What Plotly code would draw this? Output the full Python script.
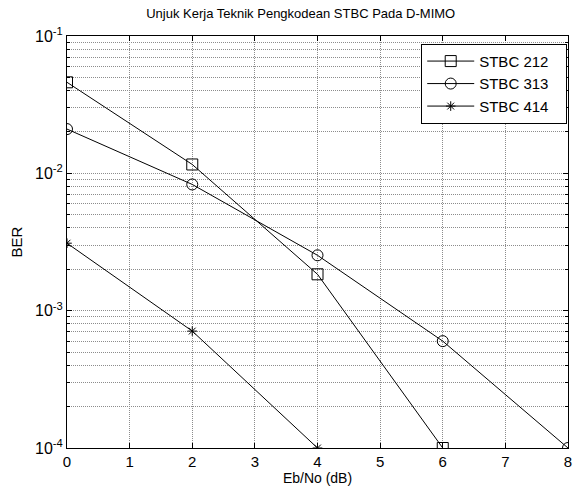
import plotly.graph_objects as go

ebno_212 = [0, 2, 4, 6]
ber_212 = [0.046, 0.0116, 0.00184, 0.0001]
ebno_313 = [0, 2, 4, 6, 8]
ber_313 = [0.021, 0.0083, 0.00253, 0.0006, 0.0001]
ebno_414 = [0, 2, 4]
ber_414 = [0.0031, 0.00071, 0.0001]
names = ["STBC 212", "STBC 313", "STBC 414"]

major_vals = [1e-4, 1e-3, 1e-2, 1e-1]
major_text = ["10<sup>-4</sup>", "10<sup>-3</sup>", "10<sup>-2</sup>", "10<sup>-1</sup>"]
minor_vals = [m * d for d in [1e-4, 1e-3, 1e-2] for m in range(2, 10)]

pad = "\u00a0\u00a0\u00a0"
fig = go.Figure()
fig.add_trace(go.Scatter(x=ebno_212, y=ber_212, name=names[0] + pad, mode="lines+markers",
                         line=dict(color="black", width=1),
                         marker=dict(symbol="square-open", size=11, color="black", line=dict(width=1))))
fig.add_trace(go.Scatter(x=ebno_313, y=ber_313, name=names[1] + pad, mode="lines+markers",
                         line=dict(color="black", width=1),
                         marker=dict(symbol="circle-open", size=11, color="black", line=dict(width=1))))
fig.add_trace(go.Scatter(x=ebno_414, y=ber_414, name=names[2] + pad, mode="lines+markers",
                         line=dict(color="black", width=1),
                         marker=dict(symbol="asterisk-open", size=8, color="black", line=dict(width=1))))

gcol = "#8c8c8c"
gdash = "1px,1px"
grid = dict(showgrid=True, gridcolor=gcol, griddash=gdash, gridwidth=1)
fig.update_layout(
    width=575, height=488,
    margin=dict(l=67, r=7, t=36, b=40, autoexpand=False),
    paper_bgcolor="white", plot_bgcolor="white",
    font=dict(family="Liberation Sans, Arial, sans-serif", size=13, color="black"),
    title=dict(text="Unjuk Kerja Teknik Pengkodean STBC Pada D-MIMO", x=0.523, xanchor="center",
               y=0.973, yanchor="middle", font=dict(size=13)),
    showlegend=True,
    legend=dict(x=0.707, y=0.981, xanchor="left", yanchor="top", bgcolor="white",
                bordercolor="black", borderwidth=1, font=dict(size=15),
                tracegroupgap=0, itemwidth=47),
    xaxis=dict(range=[0, 8], tickvals=list(range(0, 9)), ticks="inside", ticklen=5,
               tickcolor="black", showline=True, linecolor="black", linewidth=1, mirror="ticks",
               zeroline=False, automargin=False,
               title=dict(text="Eb/No (dB)", standoff=2, font=dict(size=14)),
               tickfont=dict(size=15), **grid),
    yaxis=dict(type="log", range=[-4, -1], tickvals=major_vals, ticktext=major_text,
               ticks="inside", ticklen=5, tickcolor="black", showline=True, linecolor="black",
               linewidth=1, mirror="ticks", zeroline=False, automargin=False,
               title=dict(text="BER", standoff=8, font=dict(size=15)), tickfont=dict(size=16),
               minor=dict(tickvals=minor_vals, ticks="inside", ticklen=3, tickcolor="black",
                          showgrid=True, gridcolor=gcol, griddash=gdash, gridwidth=1),
               **grid),
)
fig.write_html("out.html", config={"displayModeBar": False},
               post_script="document.body.style.margin='0';document.body.style.padding='0';")
